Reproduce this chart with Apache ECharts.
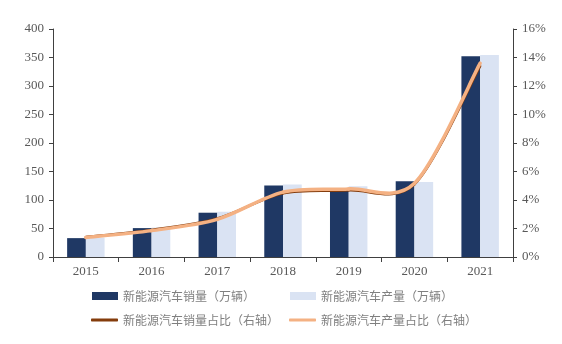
<!DOCTYPE html>
<html>
<head>
<meta charset="utf-8">
<script src="https://cdn.jsdelivr.net/npm/echarts@6/dist/echarts.min.js"></script>
<style>
  html, body { margin: 0; padding: 0; background: #fff; }
  #chart { width: 562px; height: 344px; }
</style>
</head>
<body>
<div id="chart"></div>
<script>
// 新能源汽车产销量及渗透率
const years = ['2015', '2016', '2017', '2018', '2019', '2020', '2021'];
const salesVolume = [33.1, 50.7, 77.7, 125.6, 120.6, 133.0, 352.1];      // 万辆
const productionVolume = [34.0, 51.7, 79.4, 127.0, 124.2, 131.6, 354.5]; // 万辆
const salesShare = [1.40, 1.90, 2.70, 4.47, 4.68, 5.10, 13.40];          // %
const productionShare = [1.37, 1.85, 2.64, 4.55, 4.78, 5.17, 13.60];     // %

const names = [
  '新能源汽车销量（万辆）',
  '新能源汽车产量（万辆）',
  '新能源汽车销量占比（右轴）',
  '新能源汽车产量占比（右轴）'
];

const axisFont = { fontFamily: 'Liberation Serif', fontSize: 13, color: '#595959' };
const legendText = { fontFamily: 'Noto Sans CJK SC', fontSize: 12, color: '#7f7f7f' };
const axisLineColor = '#404040';

function legendAt(name, left, top, icon, w, h) {
  return {
    data: [name], left: left, top: top, icon: icon,
    itemWidth: w, itemHeight: h, itemGap: 0, padding: 0,
    textStyle: legendText, selectedMode: false
  };
}

// Cardinal-spline share line: each segment is a cubic Bezier whose control
// points follow the neighbouring points (tangent = (next - prev) * k).
const TENSION = 1 / 6.5;
function smoothLine(values, color, width) {
  return function (params, api) {
    if (params.dataIndex !== 0) return null;
    const pts = values.map(function (v, i) { return api.coord([i, v]); });
    const n = pts.length;
    const children = [];
    for (let i = 0; i < n - 1; i++) {
      const p0 = pts[Math.max(i - 1, 0)];
      const p1 = pts[i];
      const p2 = pts[i + 1];
      const p3 = pts[Math.min(i + 2, n - 1)];
      children.push({
        type: 'bezierCurve',
        shape: {
          x1: p1[0], y1: p1[1],
          cpx1: p1[0] + (p2[0] - p0[0]) * TENSION, cpy1: p1[1] + (p2[1] - p0[1]) * TENSION,
          cpx2: p2[0] - (p3[0] - p1[0]) * TENSION, cpy2: p2[1] - (p3[1] - p1[1]) * TENSION,
          x2: p2[0], y2: p2[1]
        },
        style: { stroke: color, lineWidth: width, fill: null, lineCap: 'round' }
      });
    }
    return { type: 'group', children: children };
  };
}

const chart = echarts.init(document.getElementById('chart'));
chart.setOption({
  animation: false,
  grid: { left: 53, right: 49, top: 29, bottom: 87 },
  legend: [
    legendAt(names[0], 92, 290, 'rect', 26, 8),
    legendAt(names[1], 290, 290, 'rect', 26, 8),
    legendAt(names[2], 91, 314, 'roundRect', 27, 3),
    legendAt(names[3], 289, 314, 'roundRect', 27, 3)
  ],
  xAxis: {
    type: 'category',
    data: years,
    boundaryGap: true,
    axisLine: { lineStyle: { color: axisLineColor, width: 1 } },
    axisTick: { show: true, length: 5, lineStyle: { color: axisLineColor } },
    axisLabel: Object.assign({ margin: 8 }, axisFont)
  },
  yAxis: [
    {
      type: 'value', min: 0, max: 400, interval: 50,
      axisLine: { show: true, lineStyle: { color: axisLineColor } },
      axisTick: { show: true, length: 4, lineStyle: { color: axisLineColor } },
      axisLabel: Object.assign({ margin: 9 }, axisFont),
      splitLine: { show: false }
    },
    {
      type: 'value', min: 0, max: 16, interval: 2, position: 'right',
      axisLine: { show: true, lineStyle: { color: axisLineColor } },
      axisTick: { show: true, length: 4, lineStyle: { color: axisLineColor } },
      axisLabel: Object.assign({ margin: 9, formatter: '{value}%' }, axisFont),
      splitLine: { show: false }
    }
  ],
  series: [
    {
      name: names[0], type: 'bar', yAxisIndex: 0, data: salesVolume, z: 2,
      itemStyle: { color: '#1f3864' }, barGap: '0%', barCategoryGap: '43%'
    },
    {
      name: names[1], type: 'bar', yAxisIndex: 0, data: productionVolume, z: 2,
      itemStyle: { color: '#dae3f3' }, barGap: '0%', barCategoryGap: '43%'
    },
    {
      name: names[2], type: 'custom', yAxisIndex: 1, z: 5,
      data: salesShare.map(function (v, i) { return [i, v]; }),
      encode: { x: 0, y: 1 },
      itemStyle: { color: '#843c0c' },
      renderItem: smoothLine(salesShare, '#843c0c', 2.5)
    },
    {
      name: names[3], type: 'custom', yAxisIndex: 1, z: 6,
      data: productionShare.map(function (v, i) { return [i, v]; }),
      encode: { x: 0, y: 1 },
      itemStyle: { color: '#f4b183' },
      renderItem: smoothLine(productionShare, '#f4b183', 3.5)
    }
  ]
});
</script>
</body>
</html>
